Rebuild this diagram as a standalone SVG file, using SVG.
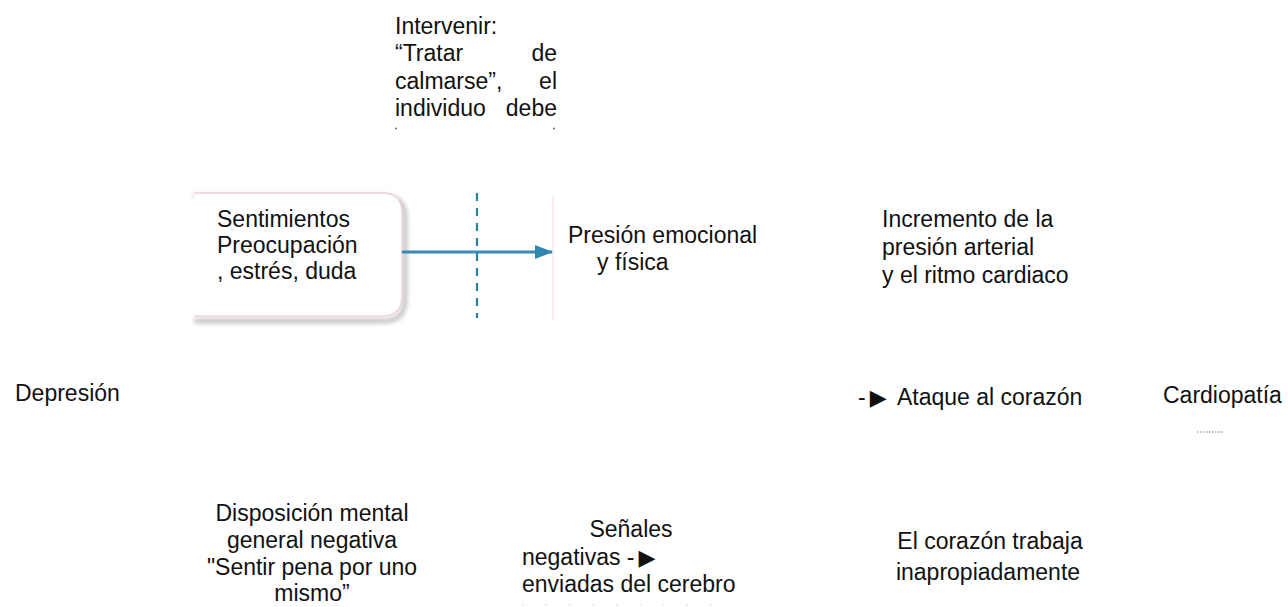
<svg xmlns="http://www.w3.org/2000/svg" width="1288" height="607" viewBox="0 0 1288 607">
<style>
text{font-family:"Liberation Sans",Arial,sans-serif;font-size:23px;fill:#111}
.c{text-anchor:middle}
.e{text-anchor:end}
.tri{font-family:"DejaVu Sans",sans-serif;font-size:22px}
</style>
<defs>
<marker id="ah" markerWidth="18" markerHeight="14" refX="17" refY="7" orient="auto" markerUnits="userSpaceOnUse" viewBox="0 0 18 14">
<path d="M0,0 L18,7 L0,14 z" fill="#2f86b0"/>
</marker>
<filter id="blur" x="-10%" y="-10%" width="130%" height="130%"><feGaussianBlur stdDeviation="2"/></filter>
</defs>
<rect width="1288" height="607" fill="#fff"/>

<g id="intervenir">
<text x="395" y="33.5">Intervenir:</text>
<text x="395" y="61">“Tratar</text><text x="557" y="61" class="e">de</text>
<text x="395" y="88.5">calmarse”,</text><text x="557" y="88.5" class="e">el</text>
<text x="395" y="116">individuo</text><text x="557" y="116" class="e">debe</text>
<circle cx="396" cy="128.5" r="1" fill="#666"/><circle cx="554" cy="128.5" r="1" fill="#666"/>
</g>

<g id="sentimientos">
<path d="M194,197 H384 Q405,197 405,218 V299 Q405,321 384,321 H194" fill="none" stroke="#8a8a8a" stroke-width="5" opacity="0.5" filter="url(#blur)"/>
<path d="M194,193 H382 Q402,193 402,213 V296 Q402,316 382,316 H194 z" fill="#fff" stroke="none"/>
<path d="M194,193 H382 Q402,193 402,213 V296 Q402,316 382,316 H194" fill="none" stroke="#ecd3da" stroke-width="1.5"/>
<text x="217" y="227">Sentimientos</text>
<text x="217" y="253">Preocupación</text>
<text x="217" y="279">, estrés, duda</text>
</g>

<g id="presion-emocional">
<line x1="553" y1="195" x2="553" y2="320" stroke="#f6e8ec" stroke-width="1.5"/>
<text x="568" y="243">Presión emocional</text>
<text x="597" y="270">y física</text>
</g>

<g id="incremento">
<text x="882" y="227">Incremento de la</text>
<text x="882" y="255">presión arterial</text>
<text x="882" y="283">y el ritmo cardiaco</text>
</g>

<g id="depresion"><text x="15" y="401">Depresión</text></g>

<g id="ataque"><text x="858" y="405">-<tspan class="tri" dx="4">▶</tspan><tspan x="897">Ataque al corazón</tspan></text></g>

<g id="cardiopatia">
<text x="1163" y="403">Cardiopatía</text>
<line x1="1197" y1="432" x2="1223" y2="432" stroke="#777" stroke-width="1" stroke-dasharray="1.5,1.5"/>
</g>

<g id="disposicion">
<text x="312" y="521" class="c">Disposición mental</text>
<text x="312" y="548" class="c">general negativa</text>
<text x="312" y="575" class="c">"Sentir pena por uno</text>
<text x="312" y="601" class="c">mismo”</text>
</g>

<g id="senales">
<text x="631" y="537" class="c">Señales</text>
<text x="522" y="565">negativas -<tspan class="tri" dx="4">▶</tspan></text>
<text x="522" y="592">enviadas del cerebro</text>
<line x1="522" y1="605" x2="730" y2="605" stroke="#ccc" stroke-width="1" stroke-dasharray="1.5,22"/>
</g>

<g id="corazon">
<text x="990" y="549" class="c">El corazón trabaja</text>
<text x="988" y="580" class="c">inapropiadamente</text>
</g>

<g id="connectors">
<line x1="402" y1="252" x2="552" y2="252" stroke="#3a8ab5" stroke-width="3" marker-end="url(#ah)"/>
<line x1="477" y1="193" x2="477" y2="318" stroke="#2f7fa0" stroke-width="2.2" stroke-dasharray="8,7"/>
</g>
</svg>
